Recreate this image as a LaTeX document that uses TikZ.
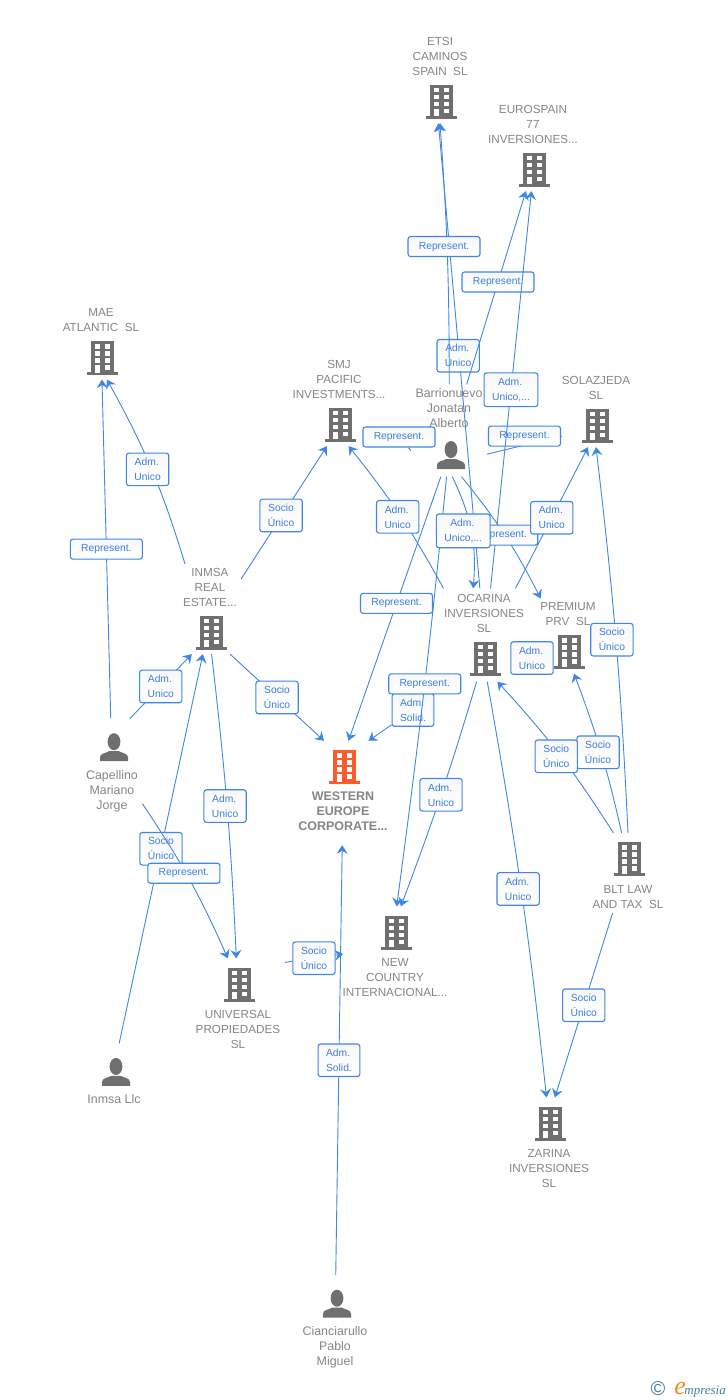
\documentclass[tikz,border=0pt]{standalone}
\usepackage{fontspec}
\setmainfont{Liberation Sans}
\newfontfamily\brandfont{Liberation Serif}
\usetikzlibrary{arrows.meta}

\definecolor{linkblue}{HTML}{3F86E6}
\definecolor{tagblue}{HTML}{3C7FDD}
\definecolor{labelgray}{HTML}{858585}
\definecolor{icongray}{HTML}{6F6F6F}
\definecolor{iconorange}{HTML}{FF5A2B}
\definecolor{brandteal}{HTML}{3F7F9F}
\definecolor{brandorange}{HTML}{F08A24}

\newcommand{\buildingicon}[1]{\hspace*{2pt}\tikz[x=1pt,y=-1pt,baseline={(0,39)}]{
    \useasboundingbox (0,0) rectangle (31,39);
    \fill[#1] (4.2,5) rectangle (27.2,37);
    \fill[#1] (0,36) rectangle (31,39);
    \foreach \wy in {8,15,22,29} \fill[white] (18.3,\wy) rectangle (23.3,\wy+4.5);
    \foreach \wy in {8,15,22} \fill[white] (8.3,\wy) rectangle (13.3,\wy+4.5);
    \fill[white] (8.3,29) rectangle (13.3,36.5);
  }}
\newcommand{\personicon}{\hspace*{4pt}\tikz[x=1pt,y=-1pt,baseline={(0,41)}]{
    \useasboundingbox (0,0) rectangle (28,41);
    \fill[icongray] (14,18.5) ellipse (6.4 and 8.5);
    \fill[icongray] (0,38) -- (0,34) .. controls (0,30) and (6,30) .. (9,28) -- (19,28)
      .. controls (22,30) and (28,30) .. (28,34) -- (28,38) -- cycle;
  }}

\tikzset{
  company/.style={align=center,inner sep=0pt,outer sep=4.5pt,text=labelgray,
    font=\fontsize{11.7}{15}\selectfont},
  person/.style={company,font=\fontsize{12.4}{15}\selectfont},
  link/.style={->,draw=linkblue,line width=.9pt},
  tag/.style={draw=linkblue,line width=1.1pt,rounded corners=2.5pt,top color=black!3,bottom color=white,
    text=tagblue,align=center,inner xsep=8pt,inner ysep=5pt,minimum height=20pt,
    font=\fontsize{10.3}{15}\selectfont},
  tagline/.style={tag,minimum width=72pt,inner xsep=2pt}
}

\begin{document}
\begin{tikzpicture}[x=1pt,y=-1pt,>={Stealth[length=8.5pt,width=11pt,inset=3pt]}]
  \useasboundingbox (0,0) rectangle (728,1400);

  % companies
  \node[company] (etsi) at (440,78) {ETSI\\CAMINOS\\SPAIN\ \ SL\\[3pt]\buildingicon{icongray}};
  \node[company] (eurospain) at (533,146) {EUROSPAIN\\77\\INVERSIONES...\\[3pt]\buildingicon{icongray}};
  \node[company] (mae) at (101,342) {MAE\\ATLANTIC\ \ SL\\[3pt]\buildingicon{icongray}};
  \node[company] (smj) at (339,401) {SMJ\\PACIFIC\\INVESTMENTS...\\[3pt]\buildingicon{icongray}};
  \node[company] (solazjeda) at (596,409.5) {SOLAZJEDA\\SL\\[3pt]\buildingicon{icongray}};
  \node[company] (inmsa) at (210,609) {INMSA\\REAL\\ESTATE...\\[3pt]\buildingicon{icongray}};
  \node[company,outer sep=6pt] (ocarina) at (484,635) {OCARINA\\INVERSIONES\\SL\\[3pt]\buildingicon{icongray}};
  \node[company] (premium) at (568,636) {PREMIUM\\PRV\ \ SL\\[3pt]\buildingicon{icongray}};
  \node[company,font=\fontsize{12.5}{15}\selectfont\bfseries] (western) at (343,793)
    {\buildingicon{iconorange}\\[1pt]WESTERN\\EUROPE\\CORPORATE...\rule[-10.5pt]{0pt}{0pt}};
  \node[company] (universal) at (238,1006) {\buildingicon{icongray}\\[2pt]UNIVERSAL\\PROPIEDADES\\SL};
  \node[company] (newcountry) at (395,954) {\buildingicon{icongray}\\[2pt]NEW\\COUNTRY\\INTERNACIONAL...};
  \node[company] (blt) at (628,873) {\buildingicon{icongray}\\[2pt]BLT LAW\\AND TAX\ \ SL};
  \node[company] (zarina) at (549,1145) {\buildingicon{icongray}\\[2pt]ZARINA\\INVERSIONES\\SL};

  % people
  \node[person] (barrio) at (449,430.5) {Barrionuevo\\Jonatan\\Alberto\\[2pt]\personicon};
  \node[person] (capellino) at (112,767.5) {\personicon\\Capellino\\Mariano\\Jorge};
  \node[person] (inmsallc) at (114,1076) {\personicon\\Inmsa Llc};
  \node[person] (cianciarullo) at (335,1324) {\personicon\\Cianciarullo\\Pablo\\Miguel};

  % links round the top
  \path (ocarina) edge[link] node[tag,xshift=-1pt] {Adm.\,\\Unico} (etsi.268);
  \path (barrio) edge[link,bend right=2] node[tagline,pos=.53,xshift=-3pt] {Represent.} (etsi.south);
  \path (barrio.69) edge[link] node[tagline,pos=.53] {Represent.} (eurospain.261);
  \node[tagline] (repsmj) at (399,437) {Represent.};
  \coordinate (solastub) at (562,436);
  \path (barrio.328) edge[link] node[tagline,yshift=9pt] {Represent.} (solastub);
  \path (ocarina.82) edge[link] node[tag] {Adm.\,\\Unico,...} (eurospain.268);
  \draw[draw=linkblue,line width=.9pt] (barrio.208) -- (repsmj);
  \path (ocarina.131) edge[link,bend right=5] node[tag,xshift=-2pt,yshift=-2pt] {Adm.\,\\Unico} (smj.282);
  \path (inmsa.44) edge[link] node[tag,xshift=-3pt,yshift=-3pt] {Socio\\Único} (smj.255);
  \path (inmsa.119) edge[link,bend right=6] node[tag,xshift=-4pt] {Adm.\,\\Unico} (mae.279);
  \path (capellino) edge[link] node[tagline] {Represent.} (mae);
  \path (capellino.70) edge[link] node[tag] {Adm.\,\\Unico} (inmsa.248);

  % links round the middle
  \path (inmsallc.81) edge[link] node[tag] {Socio\\Único} (inmsa.261);
  \path (capellino.310) edge[link,bend left=5] node[tagline,pos=.46,xshift=-2pt] {Represent.} (universal.102);
  \path (inmsa.272) edge[link,bend left=2] node[tag,xshift=-2pt] {Adm.\,\\Unico} (universal.92);
  \path (inmsa.294) edge[link] node[tag] {Socio\\Único} (western.110);
  \path (barrio.260) edge[link] node[tagline,pos=.48] {Represent.} (western.84);
  \node[tag] (admsolid) at (413,710) {Adm.\,\\Solid.};
  \draw[link] (admsolid) -- (western.64);
  \path (barrio.267) edge[link,bend left=1] node[tagline,pos=.48] {Represent.} (newcountry.88);
  \path (barrio.285) edge[link,bend left=6] node[tagline,xshift=-3pt] {Represent.} (premium.126);
  \path (barrio.274) edge[link,bend left=15] node[tag,xshift=-8pt] {Adm.\,\\Unico,...} (ocarina.103);
  \path (ocarina.56) edge[link] node[tag] {Adm.\,\\Unico} (solazjeda.258);

  % links round the right and the bottom
  \path (blt.north) edge[link,bend right=2] node[tag,xshift=-4pt] {Socio\\Único} (solazjeda.south);
  \node[tag] (admpremium) at (532,658) {Adm.\,\\Unico};
  \path (blt.99) edge[link,bend right=4] node[tag,xshift=-3pt] {Socio\\Único} (premium.279);
  \path (blt.110) edge[link,bend right=5] node[tag,xshift=-3pt,yshift=-2pt] {Socio\\Único} (ocarina.286);
  \path (ocarina.261) edge[link,bend left=2] node[tag] {Adm.\,\\Unico} (newcountry.83);
  \path (ocarina.274) edge[link,bend left=2] node[tag,xshift=-3pt] {Adm.\,\\Unico} (zarina.93);
  \path (blt.249) edge[link] node[tag] {Socio\\Único} (zarina.83);
  \path (universal.43) edge[link] node[tag] {Socio\\Único} ([xshift=5pt]newcountry.180);
  \path (cianciarullo) edge[link] node[tag] {Adm.\,\\Solid.} (western);

  % brand mark
  \node[text=brandteal,font=\fontsize{20}{20}\selectfont] (copymark) at (658,1389) {\textcopyright};
  \node[inner sep=0pt,anchor=base east,font=\brandfont\itshape\fontsize{13}{13}\selectfont,text=brandteal] (brand) at (726,1394)
    {\textcolor{brandorange}{\fontsize{26}{26}\selectfont e}\kern-1.5pt mpresia};
\end{tikzpicture}
\end{document}
